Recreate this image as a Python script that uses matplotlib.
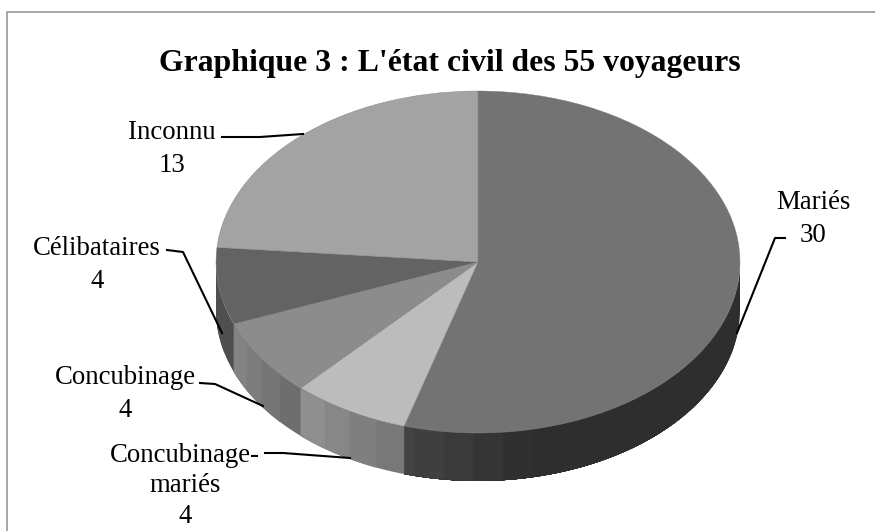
import numpy as np
import matplotlib
matplotlib.use("Agg")
import matplotlib.pyplot as plt
from matplotlib.lines import Line2D

plt.rcParams['font.family'] = ['Liberation Serif', 'DejaVu Serif']

categories = ['Mariés', 'Concubinage-\nmariés', 'Concubinage', 'Célibataires', 'Inconnu']
values = [30, 4, 4, 4, 13]
top_colors = ['#737373', '#bcbcbc', '#8c8c8c', '#636363', '#a3a3a3']
# gris du flanc : debut et fin de chaque part (sens horaire)
side_start = [0.18, 0.47, 0.43, 0.31, 0.31]
side_end = [0.27, 0.59, 0.54, 0.31, 0.31]

W, H = 875, 531
CX, CY, RX, RY, DEPTH = 478, 262, 262, 171, 48


def dx(px):
    return (px - CX) / RX


def dy(py):
    return (CY - py) / RY


fig = plt.figure(figsize=(W / 100, H / 100), dpi=100)
ax = fig.add_axes([0, 0, 1, 1])

wedges, _ = ax.pie(values, colors=top_colors, startangle=90, counterclock=False,
                   wedgeprops={'linewidth': 0.3, 'edgecolor': '#808080'})
ax.set_aspect('auto')
ax.set_xlim(dx(0), dx(W))
ax.set_ylim(dy(H), dy(0))
ax.axis('off')

# flanc du camembert : chaque bande recouvre la suivante pour eviter les joints
angles = np.cumsum([0] + values) / sum(values) * 360
d = DEPTH / RY
for i in range(len(values)):
    a0, a1 = max(angles[i], 90), min(angles[i + 1], 270)
    if a1 <= a0:
        continue
    edges = np.arange(a0, a1, 6.5)
    for start in edges:
        t = np.radians(np.linspace(start, a1, 60))
        frac = (start - angles[i]) / (angles[i + 1] - angles[i])
        if i == 0:
            frac = max(0, (start - 165) / 31)
        g = side_start[i] + (side_end[i] - side_start[i]) * frac
        xs = np.concatenate([np.sin(t), np.sin(t[::-1])])
        ys = np.concatenate([np.cos(t), np.cos(t[::-1]) - d])
        ax.fill(xs, ys, color=str(g), linewidth=0, zorder=0.5)

# filets de rappel
leaders = [
    ([737, 775, 785], [333, 238, 238]),
    ([265, 283, 350], [453, 453, 458]),
    ([200, 215, 263], [383, 384, 406]),
    ([167, 183, 222], [250, 252, 333]),
    ([222, 260, 303], [137, 137, 134]),
]
for lx, ly in leaders:
    ax.plot(dx(np.array(lx)), dy(np.array(ly)), color='black', lw=1.5, zorder=3)

label_pos = [(813, 219), (185, 486), (125, 394), (97, 265), (172, 149)]
label_spacing = [1.42, 1.3, 1.42, 1.42, 1.42]
for cat, val, (lx, ly), sp in zip(categories, values, label_pos, label_spacing):
    ax.text(dx(lx), dy(ly), f"{cat}\n{val}", ha='center', va='center',
            fontsize=19.3, linespacing=sp, color='black', clip_on=False)

ax.text(dx(449.5), dy(63), "Graphique 3 : L'état civil des 55 voyageurs",
        ha='center', va='center', fontsize=22.9, fontweight='bold')

# cadre du graphique : seuls les bords gauche et haut sont dans l'image
fig.add_artist(Line2D([7 / W, 7 / W, 1], [0, 1 - 12 / H, 1 - 12 / H],
                      color='#a6a6a6', linewidth=1.4,
                      transform=fig.transFigure))

fig.savefig('out.png', dpi=100)
